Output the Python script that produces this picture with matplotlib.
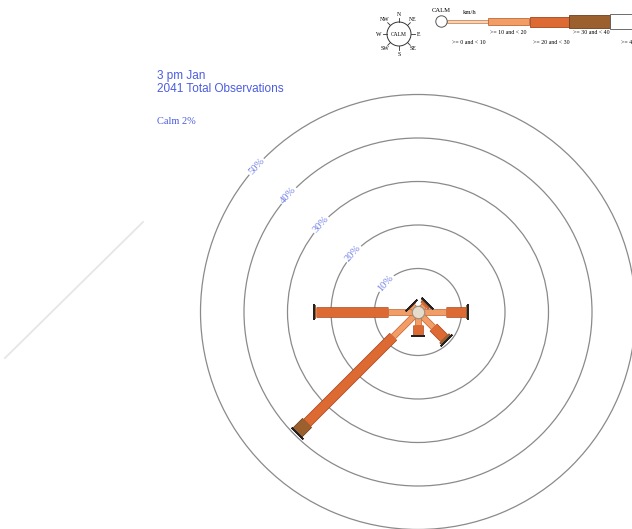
import numpy as np
import matplotlib
matplotlib.use('Agg')
import matplotlib.pyplot as plt
import matplotlib.patheffects as pe

# wind rose, 3 pm January, percent of observations per direction and speed class
directions = ['N', 'NE', 'E', 'SE', 'S', 'SW', 'W', 'NW']
bearings = [0, 45, 90, 135, 180, 225, 270, 315]
speed_labels = ['>= 0 and < 10', '>= 10 and < 20', '>= 20 and < 30', '>= 30 and < 40', '>= 40']
pct_0_10 = [0, 1.0, 1.0, 1.0, 1.0, 1.0, 1.0, 1.0]
pct_10_20 = [0, 1.0, 5.5, 4.0, 2.0, 7.0, 6.0, 0.8]
pct_20_30 = [0, 0.5, 4.5, 3.5, 2.5, 28.0, 16.5, 0.3]
pct_30_40 = [0, 0.3, 0.5, 0.5, 0.0, 3.5, 0.5, 0.2]
pct_40 = [0, 0, 0, 0, 0, 0, 0, 0]
calm_pct = 2
total_obs = 2041
ring_values = [10, 20, 30, 40, 50]

colors = ['#f8d2ae', '#f29c66', '#dc6a32', '#9c5f2e', '#ffffff']
edges = ['#c88a60', '#c0683a', '#a4461c', '#6e3f1c', '#555555']
widths = [1.4, 3.8, 6.6, 8.8, 10.5]
blue = '#4b5ce0'

fig = plt.figure(figsize=(6.32, 5.29), dpi=100)

# polar rose, center at (418, 312) px, 4.35 px per percent
rmax = 50.5
rad = 4.35 * rmax
ax = fig.add_axes([(418 - rad) / 632, (529 - 312 - rad) / 529, 2 * rad / 632, 2 * rad / 529],
                  projection='polar')
ax.set_theta_zero_location('N')
ax.set_theta_direction(-1)
ax.set_ylim(0, rmax)
ax.set_xticks([])
ax.set_yticks(ring_values)
ax.set_yticklabels([])
ax.tick_params(axis='y', length=0)
ax.yaxis.grid(True, color='#8a8a8a', lw=0.9, solid_capstyle='butt')
ax.xaxis.grid(False)
ax.spines['polar'].set_visible(False)
ax.patch.set_alpha(0)

for r in ring_values:
    ax.text(np.deg2rad(312), r, '%d%%' % r, rotation=48, ha='center', va='center',
            fontsize=7.5, family='Liberation Serif', color='#7080e6',
            bbox=dict(facecolor='white', edgecolor='none', pad=1.0))

classes = [pct_0_10, pct_10_20, pct_20_30, pct_30_40, pct_40]
for i, b in enumerate(bearings):
    th = np.deg2rad(b)
    start = 0.0
    last_w = None
    for k, vals in enumerate(classes):
        v = vals[i]
        if v <= 0:
            continue
        ax.plot([th, th], [start, start + v], color=colors[k], lw=widths[k],
                solid_capstyle='butt', zorder=3 + k * 0.01,
                path_effects=[pe.Stroke(linewidth=widths[k] + 1.0, foreground=edges[k]), pe.Normal()])
        start += v
        last_w = widths[k]
    if last_w is not None:
        ax.plot([th], [start], marker=(2, 2, 90 - b), ms=last_w + 3,
                mec='#222222', mew=1.2, zorder=5)

ax.scatter([0], [0], s=80, facecolor='#e6dccb', edgecolor='#9a8f80', lw=0.8, zorder=6)

# titles
fig.text(157 / 632, 1 - 76 / 529, '3 pm Jan', fontsize=8.5, color=blue,
         family='Liberation Sans', va='center')
fig.text(157 / 632, 1 - 89 / 529, '%d Total Observations' % total_obs, fontsize=8.5, color=blue,
         family='Liberation Sans', va='center')
fig.text(157 / 632, 1 - 122 / 529, 'Calm %d%%' % calm_pct, fontsize=7.5, color=blue,
         family='Liberation Serif', va='center')

# faint ghost line on the left
fig.add_artist(plt.Line2D([143 / 632, 5 / 632], [1 - 222 / 529, 1 - 358 / 529],
                          color='#e6e6e6', lw=1.3))

# legend strip
leg = fig.add_axes([360 / 632, 1 - 62 / 529, 272 / 632, 62 / 529])
leg.set_xlim(360, 632)
leg.set_ylim(62, 0)
leg.axis('off')
leg_heights = [3, 7, 10, 13, 15]
leg_left = [447, 488, 530, 569, 610]
for k in range(5):
    leg.barh(21.5, 41, left=leg_left[k], height=leg_heights[k], color=colors[k],
             edgecolor=edges[k], lw=0.6)
leg.add_patch(plt.Circle((441.5, 21.5), 5.7, facecolor='white', edgecolor='#555555', lw=0.7))
leg.text(441.5, 10, 'CALM', fontsize=4.8, family='Liberation Serif', ha='center', va='center')
leg.text(470, 12, 'km/h', fontsize=4.8, family='Liberation Serif', ha='center', va='center')
lab_x = [469, 508, 551, 591, 628]
lab_y = [42, 33, 42, 33, 42]
for k in range(5):
    leg.text(lab_x[k], lab_y[k], speed_labels[k], fontsize=4.2, family='Liberation Serif',
             ha='center', va='center', clip_on=True)

# compass key
cx, cy, cr = 399, 34, 12
leg.add_patch(plt.Circle((cx, cy), cr, facecolor='white', edgecolor='#333333', lw=0.7))
leg.text(cx, cy, 'CALM', fontsize=4, family='Liberation Serif', ha='center', va='center')
for d, b in zip(directions, bearings):
    a = np.deg2rad(b)
    dx, dy = np.sin(a), -np.cos(a)
    leg.plot([cx + cr * dx, cx + (cr + 4) * dx], [cy + cr * dy, cy + (cr + 4) * dy],
             color='#333333', lw=0.6)
    leg.text(cx + (cr + 8) * dx, cy + (cr + 8) * dy, d, fontsize=4.2, family='Liberation Serif',
             ha='center', va='center')

fig.savefig('out.png', dpi=100)
